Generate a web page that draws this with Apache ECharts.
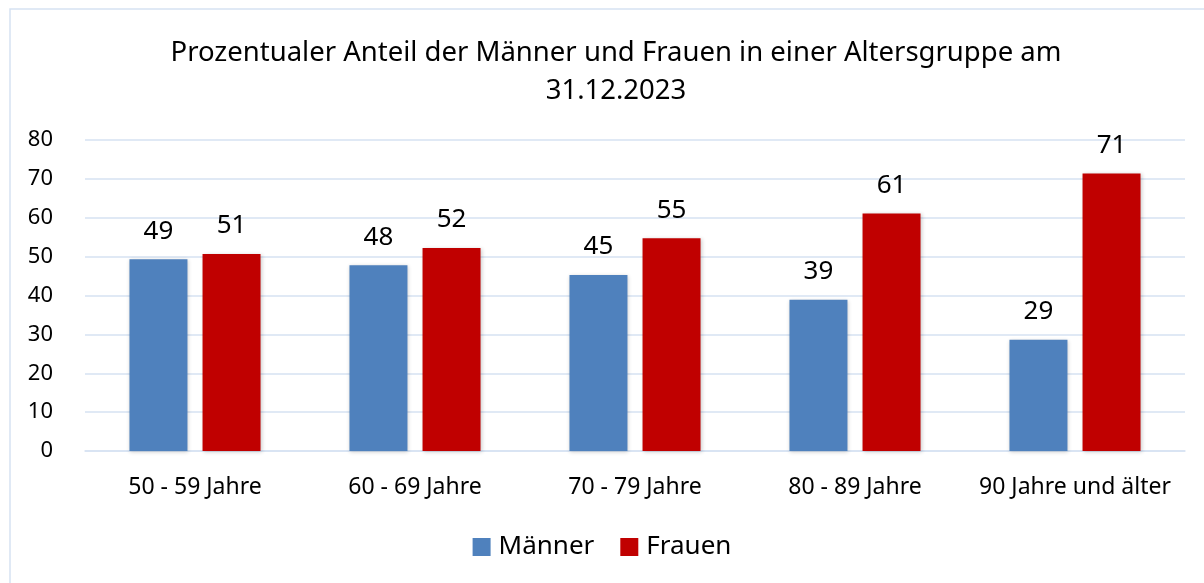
<!DOCTYPE html>
<html>
<head>
<meta charset="utf-8">
<script src="https://cdn.jsdelivr.net/npm/echarts@6/dist/echarts.min.js"></script>
<style>
  html, body { margin: 0; padding: 0; background: #fff; }
  #main { width: 1204px; height: 583px; }
</style>
</head>
<body>
<div id="main"></div>
<script>
const categories = ['50 - 59 Jahre', '60 - 69 Jahre', '70 - 79 Jahre', '80 - 89 Jahre', '90 Jahre und älter'];
const maenner = [49.3, 47.8, 45.3, 38.9, 28.6];
const frauen = [50.7, 52.2, 54.7, 61.1, 71.4];
const yTicks = [0, 10, 20, 30, 40, 50, 60, 70, 80];

const font = 'Noto Sans';
const chart = echarts.init(document.getElementById('main'));

const barLabel = {
  show: true,
  position: 'top',
  distance: 15,
  fontFamily: font,
  fontSize: 26,
  color: '#000',
  formatter: p => Math.round(p.value)
};

chart.setOption({
  animation: false,
  textStyle: { fontFamily: font },
  graphic: [{
    type: 'rect',
    shape: { x: 10, y: 9, width: 1210, height: 600 },
    style: { fill: 'none', stroke: '#D6E2F2', lineWidth: 1.5 },
    silent: true
  }],
  title: {
    text: 'Prozentualer Anteil der Männer und Frauen in einer Altersgruppe am\n31.12.2023',
    left: 611,
    textAlign: 'center',
    top: 29,
    textStyle: { fontFamily: font, fontSize: 27.5, fontWeight: 'normal', color: '#000', lineHeight: 38 }
  },
  legend: {
    bottom: 18,
    left: 'center',
    itemWidth: 18,
    itemHeight: 18,
    itemGap: 26,
    icon: 'rect',
    textStyle: { fontFamily: font, fontSize: 26, color: '#000', padding: [0, 0, 0, 3] },
    data: ['Männer', 'Frauen']
  },
  grid: { left: 85, right: 19, top: 140, bottom: 132 },
  xAxis: {
    type: 'category',
    data: categories,
    axisLine: { show: true, lineStyle: { color: '#D6E2F2', width: 1.5 } },
    axisTick: { show: false },
    axisLabel: { fontFamily: font, fontSize: 23, color: '#000', margin: 25, interval: 0 }
  },
  yAxis: {
    type: 'value',
    min: yTicks[0],
    max: yTicks[yTicks.length - 1],
    interval: 10,
    axisLine: { show: false },
    axisTick: { show: false },
    axisLabel: { fontFamily: font, fontSize: 22, color: '#000', margin: 32 },
    splitLine: { lineStyle: { color: '#D6E2F2', width: 1.5 } }
  },
  series: [
    {
      name: 'Männer',
      type: 'bar',
      data: maenner,
      barWidth: 58,
      barGap: '26%',
      itemStyle: { color: '#4F81BD', shadowColor: 'rgba(0,0,0,0.2)', shadowBlur: 4, shadowOffsetX: 1, shadowOffsetY: 1 },
      label: barLabel
    },
    {
      name: 'Frauen',
      type: 'bar',
      data: frauen,
      barWidth: 58,
      itemStyle: { color: '#C00000', shadowColor: 'rgba(0,0,0,0.2)', shadowBlur: 4, shadowOffsetX: 1, shadowOffsetY: 1 },
      label: barLabel
    }
  ]
});
</script>
</body>
</html>
